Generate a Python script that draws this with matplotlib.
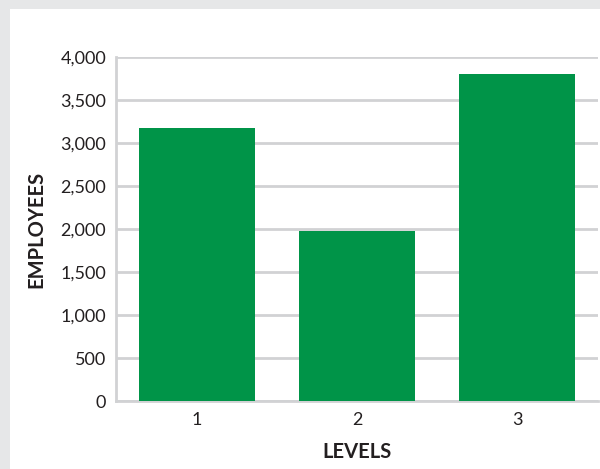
import matplotlib
matplotlib.use("Agg")
import matplotlib.pyplot as plt
from matplotlib.patches import Rectangle
from matplotlib.ticker import FuncFormatter

levels = ["1", "2", "3"]
employees = [3170, 1980, 3800]
y_ticks = [0, 500, 1000, 1500, 2000, 2500, 3000, 3500, 4000]

plt.rcParams["font.family"] = ["Lato", "DejaVu Sans"]

fig = plt.figure(figsize=(6.0, 4.69), dpi=100, facecolor="#e6e7e8")
# white card on the grey frame
fig.patches.append(Rectangle((10 / 600, 0), 1 - 10 / 600, 1 - 9 / 469,
                             transform=fig.transFigure, facecolor="white",
                             edgecolor="none", zorder=-10))

ax = fig.add_axes([116 / 600, 1 - 401 / 469, 482 / 600, 344 / 469])
ax.set_zorder(1)
ax.set_facecolor("white")

pos = list(range(1, len(levels) + 1))
ax.bar(pos, employees, width=0.725, color="#009448", zorder=3)

ax.set_xlim(0.494, 3.506)
ax.set_ylim(0, 4000)
ax.set_yticks(y_ticks)
ax.yaxis.set_major_formatter(FuncFormatter(lambda v, p: f"{int(v):,}"))
ax.set_xticks(pos)
ax.set_xticklabels(levels)

ax.grid(axis="y", color="#d1d2d4", linewidth=2, zorder=0)
ax.tick_params(axis="both", length=0, labelsize=13, colors="#231f20")
ax.tick_params(axis="y", pad=7)
ax.tick_params(axis="x", pad=8)

for side in ("top", "right"):
    ax.spines[side].set_visible(False)
for side in ("left", "bottom"):
    ax.spines[side].set_color("#d1d2d4")
    ax.spines[side].set_linewidth(2)

ax.set_ylabel("EMPLOYEES", fontsize=14.5, fontweight="bold", color="#231f20", labelpad=10)
ax.set_xlabel("LEVELS", fontsize=14.5, fontweight="bold", color="#231f20", labelpad=10)

fig.savefig("out.png", dpi=100, facecolor=fig.get_facecolor())
